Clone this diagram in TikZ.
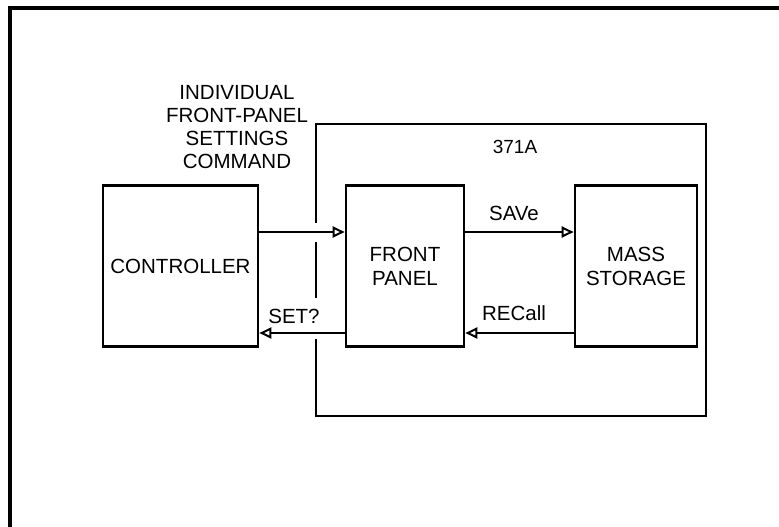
\documentclass[tikz,border=0pt]{standalone}
\usepackage{fontspec}
\setmainfont{Liberation Sans}
\usetikzlibrary{arrows.meta}

\tikzset{
  unit/.style={draw, line width=2.6pt, minimum width=155pt, minimum height=161pt,
    inner sep=0pt, align=center, font=\fontsize{20.5}{24}\selectfont},
  flow/.style={line width=2.6pt, -{Triangle[open, length=12pt, width=11pt, line width=2pt]}},
  tag/.style={font=\fontsize{20.5}{24}\selectfont, inner sep=1pt}
}

\begin{document}
\begin{tikzpicture}[x=1pt, y=-1pt]

\useasboundingbox (0,0) rectangle (779,527);

% frame
\draw[line width=3.5pt] (10,527) -- (10,8) -- (779,8);

% 371A enclosure, broken where the lines cross
\draw[line width=2.6pt] (316,223) -- (316,124) -- (706,124) -- (706,416) -- (316,416) -- (316,339);
\draw[line width=2.6pt] (316,242) -- (316,298);
\node[tag, font=\fontsize{19}{22}\selectfont] (inst) at (515,147) {371A};

% boxes
\node[unit] (ctrl) at (180.5,266) {CONTROLLER};
\node[unit, minimum width=118pt] (panel) at (405,266) {FRONT\\PANEL};
\node[unit, minimum width=122pt] (storage) at (636,266) {MASS\\STORAGE};

\node[tag, align=center, font=\fontsize{20.5}{23}\selectfont] (cmd) at (237,127)
  {INDIVIDUAL\\FRONT-PANEL\\SETTINGS\\COMMAND};

% flows
\draw[flow] ([yshift=34pt]ctrl.east) -- ([yshift=34pt]panel.west);
\draw[flow] ([yshift=-67pt]panel.west) -- ([yshift=-67pt]ctrl.east);
\draw[flow] ([yshift=34pt]panel.east) -- ([yshift=34pt]storage.west);
\draw[flow] ([yshift=-67pt]storage.west) -- ([yshift=-67pt]panel.east);

\node[tag] (save) at (514,213) {SAVe};
\node[tag] (recall) at (514,313) {RECall};
\node[tag] (query) at (294,316) {SET?};

\end{tikzpicture}
\end{document}
